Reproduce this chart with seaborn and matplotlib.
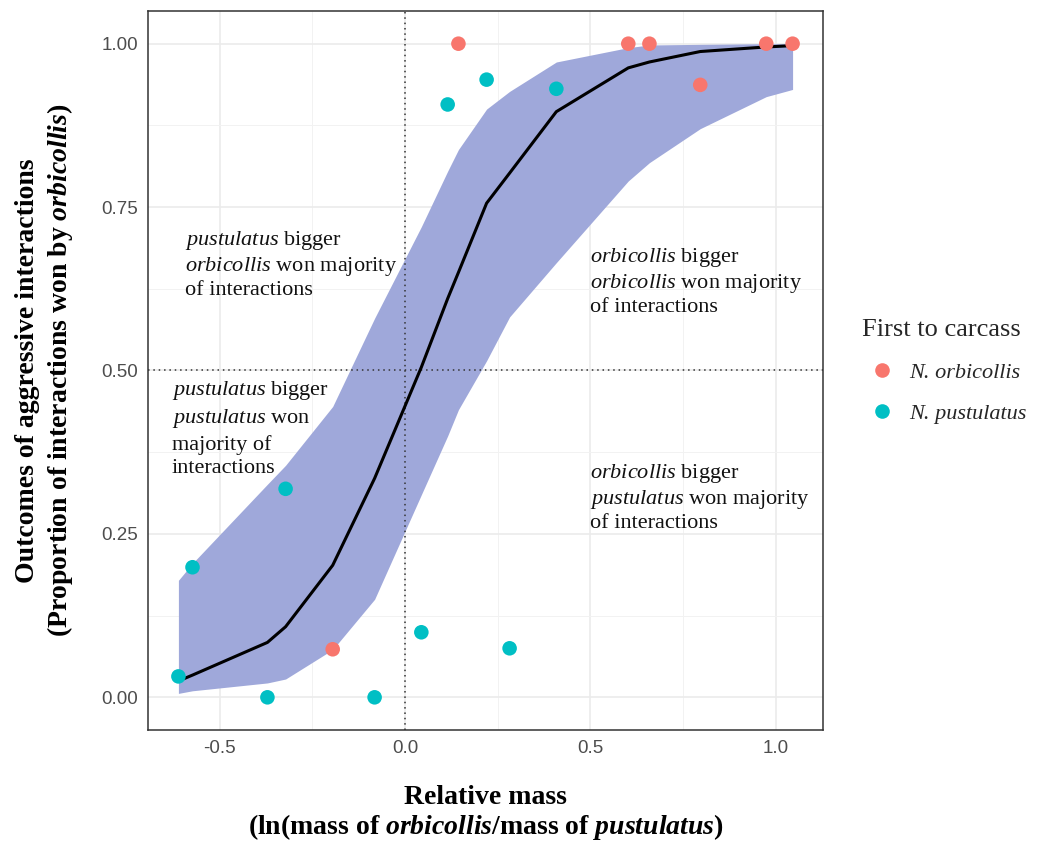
import numpy as np
import pandas as pd
import matplotlib
matplotlib.use("Agg")
import matplotlib.pyplot as plt
import seaborn as sns
from matplotlib.lines import Line2D

# ---- data ----
orb_x = [0.144, 0.602, 0.659, 0.796, 0.974, 1.045, -0.195]
orb_y = [1.000, 1.000, 1.000, 0.937, 1.000, 1.000, 0.0735]
pus_x = [0.115, 0.220, 0.408, -0.573, -0.322, -0.611, -0.371, -0.082, 0.044, 0.282]
pus_y = [0.907, 0.945, 0.931, 0.199, 0.319, 0.032, 0.000, 0.000, 0.0995, 0.075]

fit_x = [-0.611, -0.573, -0.371, -0.322, -0.195, -0.082, 0.044, 0.115, 0.144,
         0.220, 0.282, 0.408, 0.602, 0.659, 0.796, 0.974, 1.045]
fit_y = [0.025, 0.034, 0.084, 0.108, 0.202, 0.335, 0.505, 0.610, 0.650,
         0.756, 0.802, 0.896, 0.963, 0.972, 0.988, 0.995, 0.997]
fit_lo = [0.006, 0.010, 0.022, 0.028, 0.073, 0.150, 0.310, 0.400, 0.440,
          0.515, 0.582, 0.665, 0.790, 0.818, 0.870, 0.919, 0.930]
fit_hi = [0.179, 0.205, 0.326, 0.355, 0.445, 0.580, 0.720, 0.805, 0.838,
          0.900, 0.927, 0.972, 0.994, 0.998, 0.999, 1.000, 1.000]

groups = ["N. orbicollis", "N. pustulatus"]
colors = ["#F8766D", "#00BFC4"]

x_ticks = [-0.5, 0.0, 0.5, 1.0]
x_ticklabels = ["-0.5", "0.0", "0.5", "1.0"]
y_ticks = [0.0, 0.25, 0.5, 0.75, 1.0]
y_ticklabels = ["0.00", "0.25", "0.50", "0.75", "1.00"]

pts = pd.DataFrame({
    "x": orb_x + pus_x,
    "y": orb_y + pus_y,
    "First to carcass": [groups[0]] * len(orb_x) + [groups[1]] * len(pus_x),
})
fit = pd.DataFrame({"x": fit_x, "y": fit_y, "lo": fit_lo, "hi": fit_hi})

# ---- style ----
sns.set_theme(style="white")
plt.rcParams["font.family"] = ["Liberation Serif", "DejaVu Serif"]
plt.rcParams["mathtext.fontset"] = "custom"
plt.rcParams["mathtext.rm"] = "Liberation Serif"
plt.rcParams["mathtext.it"] = "Liberation Serif:italic"
plt.rcParams["mathtext.bf"] = "Liberation Serif:bold"
plt.rcParams["mathtext.sf"] = "Liberation Serif:italic:bold"

fig = plt.figure(figsize=(10.52, 8.44), dpi=100)
ax = fig.add_axes([148 / 1052, 1 - 730 / 844, (823 - 148) / 1052, (730 - 11) / 844])

ax.set_xlim(-0.693, 1.127)
ax.set_ylim(-0.05, 1.05)

# grid (major + minor)
ax.set_xticks(x_ticks)
ax.set_xticklabels(x_ticklabels)
ax.set_yticks(y_ticks)
ax.set_yticklabels(y_ticklabels)
ax.set_xticks([-0.25, 0.25, 0.75], minor=True)
ax.set_yticks([0.125, 0.375, 0.625, 0.875], minor=True)
ax.grid(True, which="major", color="#EBEBEB", lw=1.2)
ax.grid(True, which="minor", color="#F2F2F2", lw=0.7)
ax.set_axisbelow(True)
ax.tick_params(which="minor", length=0)
ax.tick_params(which="major", length=4, width=1, color="#333333",
               labelsize=13.5, labelcolor="#4D4D4D", pad=3)
for lab in ax.get_xticklabels() + ax.get_yticklabels():
    lab.set_fontfamily("Liberation Sans")
for sp in ax.spines.values():
    sp.set_color("#333333")
    sp.set_linewidth(1.1)

# ribbon
ax.fill_between(fit["x"], fit["lo"], fit["hi"], color="#9FA8DA", lw=0, zorder=1)

# reference lines
ax.axvline(0, color="#333333", ls=(0, (1, 2.5)), lw=1.1, zorder=2)
ax.axhline(0.5, color="#333333", ls=(0, (1, 2.5)), lw=1.1, zorder=2)

# fitted line
sns.lineplot(data=fit, x="x", y="y", color="black", lw=2.2, ax=ax, zorder=3,
             estimator=None, sort=True)

# points
sns.scatterplot(data=pts, x="x", y="y", hue="First to carcass",
                hue_order=groups, palette=colors, s=110, edgecolor="none",
                ax=ax, zorder=4, legend=False)

# annotations
ann_kw = dict(fontsize=16, color="#111111", ha="left",
              va="center", zorder=5, family="Liberation Serif")
ax.text(-0.594, 0.662,
        "$\\mathit{pustulatus}$ bigger\n$\\mathit{orbicollis}$ won majority\nof interactions",
        linespacing=1.2, **ann_kw)
ax.text(-0.629, 0.411,
        "$\\mathit{pustulatus}$ bigger\n$\\mathit{pustulatus}$ won\nmajority of\ninteractions",
        linespacing=1.32, **ann_kw)
ax.text(0.5, 0.636,
        "$\\mathit{orbicollis}$ bigger\n$\\mathit{orbicollis}$ won majority\nof interactions",
        linespacing=1.2, **ann_kw)
ax.text(0.5, 0.306,
        "$\\mathit{orbicollis}$ bigger\n$\\mathit{pustulatus}$ won majority\nof interactions",
        linespacing=1.2, **ann_kw)

# axis labels
ax.set_xlabel("Relative mass\n(ln(mass of $\\mathsf{orbicollis}$/mass of $\\mathsf{pustulatus}$)",
              fontsize=20, fontweight="bold", color="black", linespacing=1.12,
              family="Liberation Serif", labelpad=20)
ax.set_ylabel("Outcomes of aggressive interactions\n(Proportion of interactions won by $\\mathsf{orbicollis}$)",
              fontsize=20, fontweight="bold", color="black", linespacing=1.25,
              family="Liberation Serif", labelpad=19)

# legend
handles = [Line2D([], [], marker="o", ls="none", markersize=10.5,
                  markerfacecolor=c, markeredgecolor="none") for c in colors]
leg = fig.legend(handles, groups,
                 title="First to carcass", loc="upper left",
                 bbox_to_anchor=(853 / 1052, 1 - 310 / 844), frameon=False,
                 fontsize=16, title_fontsize=19, handletextpad=0.31,
                 labelspacing=0.95, borderaxespad=0, handlelength=1.8)
leg._legend_box.align = "left"
for t in leg.get_texts():
    t.set_fontstyle("italic")

fig.savefig("out.png", dpi=100)
